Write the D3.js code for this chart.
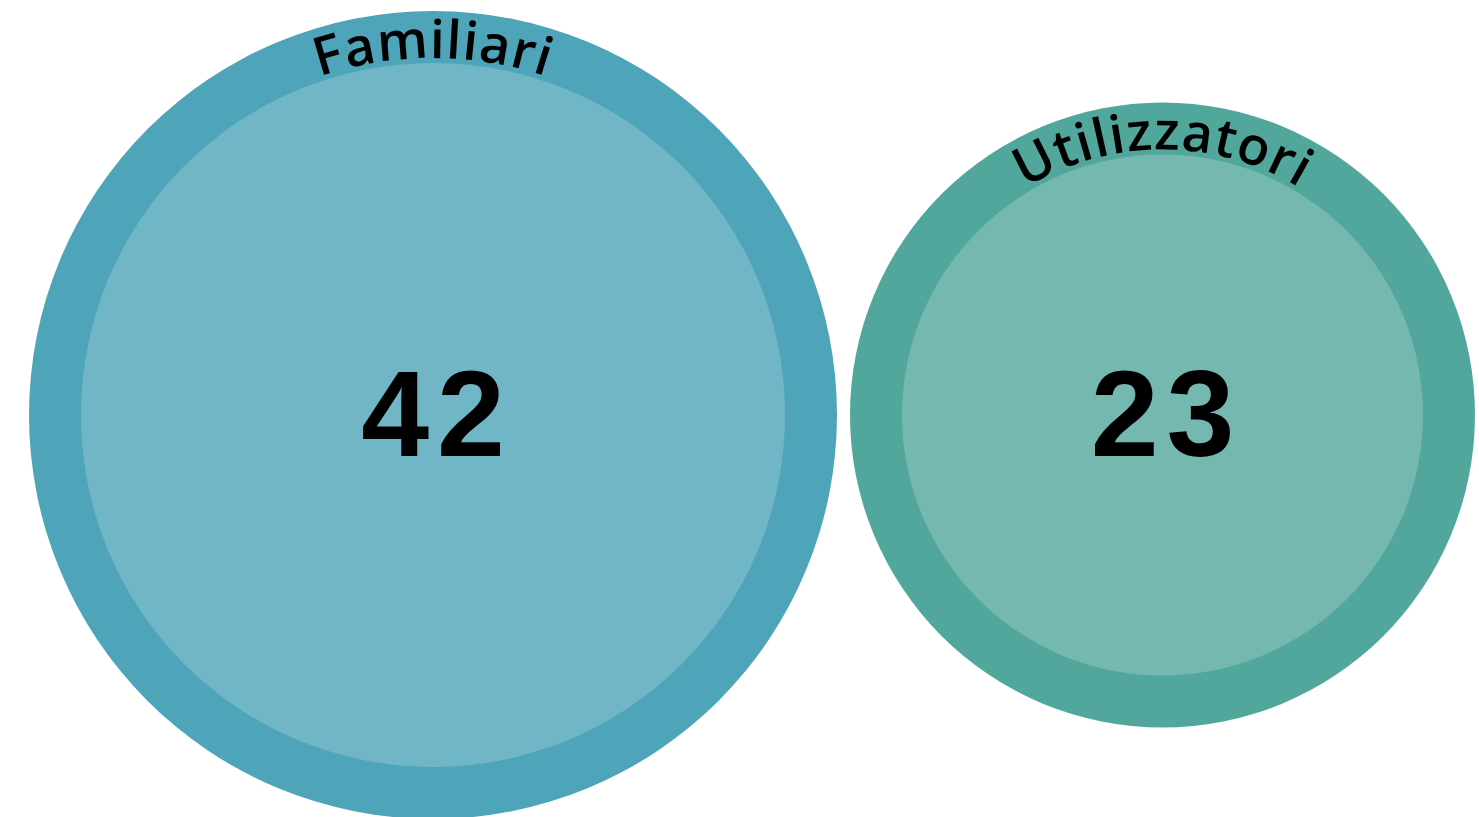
<!DOCTYPE html>
<html>
<head>
<meta charset="utf-8">
<script src="https://cdn.jsdelivr.net/npm/d3@7"></script>
<style>
  html, body { margin: 0; padding: 0; background: #fff; overflow: hidden; }
</style>
</head>
<body>
<div class="canvas"></div>
<script>
// data
const labels = ["Familiari", "Utilizzatori"];
const values = [42, 23];
const colors = ["#4ea4b8", "#52a79c"];

const width = 1479;
const height = 817;
const ring = 52;
const gap = 13;
const left = 29;
const cy = 415;

const svg = d3
  .select(".canvas")
  .append("svg")
  .attr("width", width)
  .attr("height", height);

// inner radius scales with sqrt of value
const r = d3.scaleSqrt().domain([0, 42]).range([0, 352]);

// lay circles side by side
let xPos = left;
const nodes = values.map((v, i) => {
  const inner = r(v);
  const outer = inner + ring;
  const cx = xPos + outer;
  xPos += outer * 2 + gap;
  return { label: labels[i], value: v, color: colors[i], inner, outer, cx };
});

const groups = svg
  .selectAll("g.bubble")
  .data(nodes)
  .enter()
  .append("g")
  .attr("class", "bubble")
  .attr("transform", (d) => `translate(${d.cx},${cy})`);

// outer ring
groups
  .append("circle")
  .attr("r", (d) => d.outer)
  .attr("fill", (d) => d.color);

// inner lighter circle
groups
  .append("circle")
  .attr("r", (d) => d.inner)
  .attr("fill", "#fff")
  .attr("fill-opacity", 0.2);

// arc path for curved label
groups
  .append("path")
  .attr("id", (d, i) => "arc" + i)
  .attr("fill", "none")
  .attr("d", (d) => {
    const rr = d.inner + 5;
    return `M ${-rr},0 A ${rr},${rr} 0 0,1 ${rr},0`;
  });

groups
  .append("text")
  .attr("font-family", "'Open Sans', sans-serif")
  .attr("font-size", 53)
  .attr("font-weight", 600)
  .attr("letter-spacing", 1)
  .attr("fill", "#000")
  .append("textPath")
  .attr("href", (d, i) => "#arc" + i)
  .attr("startOffset", "50%")
  .attr("text-anchor", "middle")
  .text((d) => d.label);

// value in the middle
groups
  .append("text")
  .attr("text-anchor", "middle")
  .attr("x", 4)
  .attr("y", 41)
  .attr("letter-spacing", 8)
  .attr("font-family", "'Liberation Sans', Arial, sans-serif")
  .attr("font-weight", "bold")
  .attr("font-size", 122)
  .attr("fill", "#000")
  .text((d) => d.value);
</script>
</body>
</html>
